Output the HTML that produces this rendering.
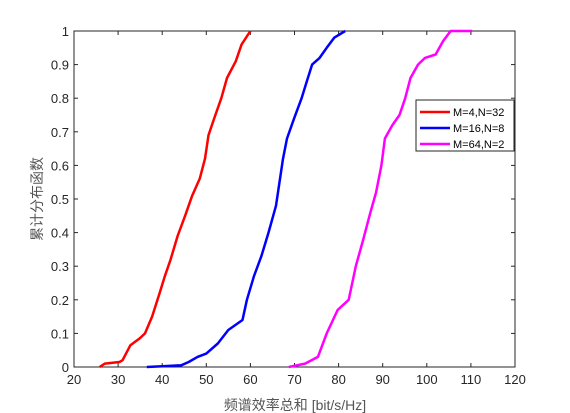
<!DOCTYPE html>
<html><head><meta charset="utf-8"><style>
body{margin:0;background:#fff;}
svg{display:block;font-family:"Liberation Sans","Noto Sans CJK SC",sans-serif;}
</style></head><body>
<svg id="chart" width="570" height="413"></svg>
<script>
const xTicks=[20,30,40,50,60,70,80,90,100,110,120];
const yTicks=[0,0.1,0.2,0.3,0.4,0.5,0.6,0.7,0.8,0.9,1];
const seriesNames=["M=4,N=32","M=16,N=8","M=64,N=2"];
const seriesColors=["#ff0000","#0000ff","#ff00ff"];
const redX=[25.8,27,30.3,31,32.8,34.9,36.1,37.7,39.4,40.6,41.9,43.5,45.2,46.8,48.5,49.7,50.5,51.8,53.4,54.7,56.7,58,60];
const redP=[0,0.01,0.015,0.02,0.065,0.085,0.1,0.15,0.22,0.27,0.32,0.39,0.45,0.51,0.56,0.62,0.69,0.74,0.8,0.86,0.91,0.96,1];
const blueX=[36.5,40,44.3,46,48,50,52.6,55,58.2,59.2,60.8,62.5,64.1,65.8,66.6,67.4,68.3,69.9,71.6,72.8,74,75.7,77.3,79,81.5];
const blueP=[0,0.002,0.005,0.015,0.03,0.04,0.07,0.11,0.14,0.2,0.27,0.33,0.4,0.48,0.55,0.62,0.68,0.74,0.8,0.85,0.9,0.92,0.95,0.98,1];
const magX=[68.7,72.4,75.3,77.3,79.8,82.3,83.9,85.6,87.2,88.5,89.7,90.5,92.2,93.8,95.1,96.3,98,99.6,102,103.7,105.4,110.3];
const magP=[0,0.01,0.03,0.1,0.17,0.2,0.3,0.38,0.46,0.52,0.6,0.68,0.72,0.75,0.8,0.86,0.9,0.92,0.93,0.97,1,1];
const L=74,R=515,T=31,B=367;
const sx=v=>L+(v-20)/100*(R-L);
const sy=p=>B-p*(B-T);
const svg=document.getElementById('chart');
const NS='http://www.w3.org/2000/svg';
function mk(tag,attrs,parent){const e=document.createElementNS(NS,tag);for(const k in attrs)e.setAttribute(k,attrs[k]);(parent||svg).appendChild(e);return e;}
const frame=mk('rect',{x:L,y:T,width:R-L,height:B-T,fill:'#fff',stroke:'#262626','stroke-width':1});


xTicks.forEach(v=>{
  const x=sx(v);
  mk('line',{x1:x,y1:B,x2:x,y2:B-4,stroke:'#262626'});
  mk('line',{x1:x,y1:T,x2:x,y2:T+4,stroke:'#262626'});
  const t=mk('text',{x:x,y:B+17,'text-anchor':'middle','font-size':13,fill:'#262626'});
  t.textContent=v;
  
  
});
yTicks.forEach(v=>{
  const y=sy(v);
  mk('line',{x1:L,y1:y,x2:L+4,y2:y,stroke:'#262626'});
  mk('line',{x1:R,y1:y,x2:R-4,y2:y,stroke:'#262626'});
  const t=mk('text',{x:L-5,y:y+5,'text-anchor':'end','font-size':13,fill:'#262626'});
  t.textContent=v;
  
  
});
const xl=mk('text',{x:295,y:410,'text-anchor':'middle','font-size':14,fill:'#555'});
xl.textContent='频谱效率总和 [bit/s/Hz]';


const yl=mk('text',{x:0,y:0,'text-anchor':'middle','font-size':14,fill:'#555',transform:'translate(42,199) rotate(-90)'});
yl.textContent='累计分布函数';


const data=[[redX,redP],[blueX,blueP],[magX,magP]];
data.forEach((d,i)=>{
  const pts=d[0].map((v,j)=>sx(v).toFixed(1)+','+sy(d[1][j]).toFixed(1)).join(' ');
  const pl=mk('polyline',{points:pts,fill:'none',stroke:seriesColors[i],'stroke-width':2.5,'stroke-linejoin':'round'});
  
  
});
const lg=mk('g',{});


mk('rect',{x:416,y:100,width:98,height:51,fill:'#fff',stroke:'#262626','stroke-width':1},lg);
seriesNames.forEach((n,i)=>{
  const y=112+i*16;
  mk('line',{x1:420,y1:y,x2:450,y2:y,stroke:seriesColors[i],'stroke-width':2.5},lg);
  const t=mk('text',{x:453,y:y+4,'font-size':11,fill:'#000'},lg);
  t.textContent=n;
  
  
});
</script>
</body></html>
